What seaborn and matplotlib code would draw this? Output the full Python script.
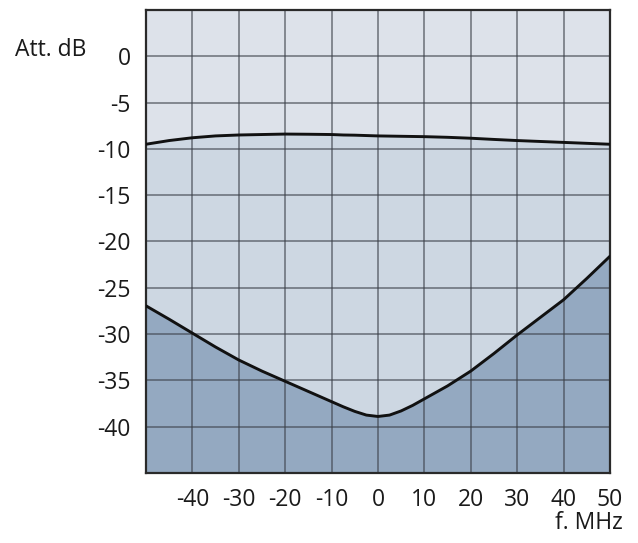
"""Attenuation vs frequency: filter response band"""
import matplotlib
matplotlib.use("Agg")
from matplotlib import pyplot as plt
import numpy as np
import pandas as pd
import seaborn as sns

freq = [-50, -45, -40, -35, -30, -25, -20, -15, -10, -7.5, -5, -2.5, 0, 2.5,
        5, 7.5, 10, 15, 20, 25, 30, 35, 40, 45, 50]
upper_db = [-9.5, -9.1, -8.8, -8.6, -8.5, -8.45, -8.4, -8.42, -8.45, -8.5, -8.52,
            -8.56, -8.6, -8.62, -8.64, -8.66, -8.68, -8.75, -8.85, -8.98, -9.1,
            -9.2, -9.3, -9.4, -9.5]
lower_db = [-26.95, -28.4, -29.9, -31.4, -32.8, -34.0, -35.1, -36.2, -37.3, -37.85,
            -38.35, -38.75, -38.9, -38.75, -38.3, -37.7, -37.0, -35.6, -34.0,
            -32.1, -30.1, -28.2, -26.3, -24.0, -21.6]
x_ticks = [-40, -30, -20, -10, 0, 10, 20, 30, 40, 50]
y_ticks = [0, -5, -10, -15, -20, -25, -30, -35, -40]

sns.set_theme(style="white")
plt.rcParams["font.family"] = ["Open Sans", "DejaVu Sans"]

df = pd.DataFrame({"f": freq, "upper": upper_db, "lower": lower_db})

fig = plt.figure(figsize=(6.38, 5.43), dpi=100)
ax = fig.add_axes([0.2288, 0.1290, 0.7272, 0.8526])
ax.set_xlim(-50, 50)
ax.set_ylim(-45, 5)

# background bands
ax.fill_between(df["f"], df["upper"], 5, color="#dde2ea", lw=0, zorder=0)
ax.fill_between(df["f"], df["lower"], df["upper"], color="#cdd7e2", lw=0, zorder=0)
ax.fill_between(df["f"], -45, df["lower"], color="#94a9c1", lw=0, zorder=0)

# grid
for gx in np.arange(-40, 50, 10):
    ax.axvline(gx, color="#3a3f47", lw=1.1, alpha=0.7, zorder=1)
for gy in np.arange(0, -45, -5):
    ax.axhline(gy, color="#3a3f47", lw=1.1, alpha=0.7, zorder=1)

sns.lineplot(data=df, x="f", y="upper", color="#111111", lw=2.1, ax=ax, zorder=3)
sns.lineplot(data=df, x="f", y="lower", color="#111111", lw=2.1, ax=ax, zorder=3)

ax.set_xticks(x_ticks)
ax.set_xticklabels([str(t) for t in x_ticks])
ax.set_yticks(y_ticks)
ax.set_yticklabels([str(t) for t in y_ticks])
ax.tick_params(axis="both", length=0, labelsize=16.5, labelcolor="#1a1a1a")
ax.tick_params(axis="x", pad=11)
ax.tick_params(axis="y", pad=11)
ax.set_xlabel("")
ax.set_ylabel("")

for s in ax.spines.values():
    s.set_color("#2a2a2a")
    s.set_linewidth(1.6)
    s.set_visible(True)

fig.text(15 / 638, 1 - 50 / 543, "Att. dB", fontsize=16.5, color="#1a1a1a",
         ha="left", va="center")
fig.text(623 / 638, 1 - 523 / 543, "f. MHz", fontsize=16.5, color="#1a1a1a",
         ha="right", va="center")

plt.savefig("out.png", dpi=100)
